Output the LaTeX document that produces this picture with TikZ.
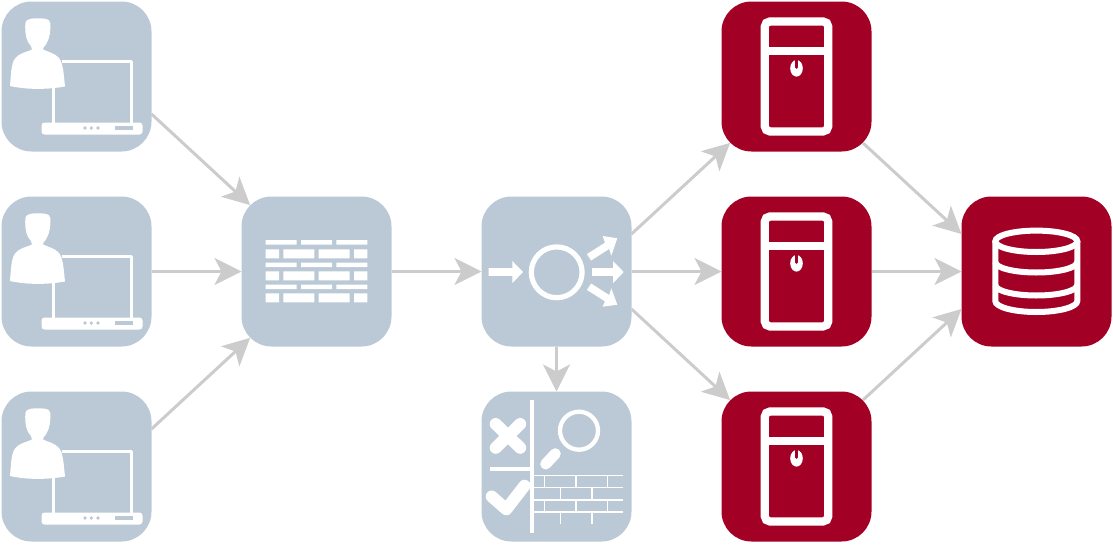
\documentclass[tikz,border=0pt]{standalone}
\usetikzlibrary{arrows.meta}
\definecolor{boxblue}{HTML}{BAC9D5}
\definecolor{boxred}{HTML}{A30026}
\definecolor{conn}{HTML}{CCCCCC}
\tikzset{
  tile/.style={rectangle,rounded corners=30pt,minimum size=150pt,inner sep=0pt,outer sep=0pt,draw=none},
  bluetile/.style={tile,fill=boxblue},
  redtile/.style={tile,fill=boxred},
  link/.style={draw=conn,line width=3pt,-{Stealth[length=27pt,width=27pt,inset=7pt,fill=conn]}},
  ico/.style={draw=white,fill=none},
  icofill/.style={fill=white,draw=none}
}
\newcommand{\usericon}[1]{%
\begin{scope}[shift={(0,#1)}]
  \fill[icofill] (25.6,22) .. controls (26.5,19) and (33,18) .. (38,18.3) .. controls (44,18.6) and (49.5,18) .. (50.3,23)
    .. controls (50.8,30) and (50,38) .. (46,44.5) .. controls (44,47) and (42.5,48) .. (43,49.5)
    .. controls (48,52) and (55,53) .. (59,58) .. controls (63,63) and (63.5,72) .. (65,86.5)
    .. controls (48,89.5) and (28,90) .. (10,86) .. controls (11,75) and (11,64) .. (15,58.5)
    .. controls (19,53) and (27,52) .. (32,49.5) .. controls (32.5,47) and (30,45) .. (28,42)
    .. controls (25,36) and (24.8,28) .. (25.6,22) -- cycle;
  \draw[draw=white,line width=3pt,line join=round] (53,86) -- (53,124);
  \draw[draw=white,line width=3pt,line join=round] (62,61.7) -- (131.5,61.7) -- (131.5,124);
  \fill[icofill,rounded corners=3pt] (41.5,122.5) rectangle (142.5,134.5);
  \fill[boxblue] (85,128) circle (1.8) (91.3,128) circle (1.8) (98,128) circle (1.8);
  \fill[boxblue] (115,125.5) rectangle (133.3,130);
\end{scope}}
\newcommand{\servericon}[1]{%
\begin{scope}[shift={(0,#1)}]
  \draw[draw=white,line width=8.2pt,rounded corners=5pt] (764.8,21.5) rectangle (828.2,131.4);
  \draw[draw=white,line width=8pt] (764.8,51) -- (828.2,51);
  \fill[icofill] (796.5,68.3) ellipse (6.3 and 8.3);
  \draw[draw=boxred,line width=2.6pt,line cap=round] (796.5,57) -- (796.5,67.5);
\end{scope}}
\begin{document}
\begin{tikzpicture}[x=1pt,y=-1pt]
\useasboundingbox (0,0) rectangle (1113,546);
% tiles
\node[bluetile] (u1) at (76.5,76.5) {};
\node[bluetile] (u2) at (76.5,271.5) {};
\node[bluetile] (u3) at (76.5,466.5) {};
\node[bluetile] (fw) at (316.5,271.5) {};
\node[bluetile] (lb) at (556.5,271.5) {};
\node[bluetile] (pol) at (556.5,466.5) {};
\node[redtile] (s1) at (796.5,76.5) {};
\node[redtile] (s2) at (796.5,271.5) {};
\node[redtile] (s3) at (796.5,466.5) {};
\node[redtile] (db) at (1036.5,271.5) {};
% connectors
\draw[link] ([shift={(0,37.5)}]u1.east) -- ([shift={(8.6,8.6)}]fw.north west);
\draw[link] (u2.east) -- (fw.west);
\draw[link] ([shift={(0,-37.5)}]u3.east) -- ([shift={(8.6,-8.6)}]fw.south west);
\draw[link] (fw.east) -- (lb.west);
\draw[link] ([shift={(0,-37.5)}]lb.east) -- ([shift={(8.6,-8.6)}]s1.south west);
\draw[link] (lb.east) -- (s2.west);
\draw[link] ([shift={(0,37.5)}]lb.east) -- ([shift={(8.6,8.6)}]s3.north west);
\draw[link] (lb.south) -- (pol.north);
\draw[link] ([shift={(-8.6,-8.6)}]s1.south east) -- ([shift={(0,-37.5)}]db.west);
\draw[link] (s2.east) -- (db.west);
\draw[link] ([shift={(-8.6,8.6)}]s3.north east) -- ([shift={(0,37.5)}]db.west);
% user icons
\usericon{0}\usericon{195}\usericon{390}
% firewall
\foreach \y in {240,262.7,284.7}{
  \fill[icofill] (265.7,\y) rectangle ++(31,4.5) (301,\y) rectangle ++(31,4.5) (336.3,\y) rectangle ++(31,4.5);
}
\foreach \y in {249.3,271.3,293.3}{
  \fill[icofill] (265.7,\y) rectangle ++(13.3,9) (283.3,\y) rectangle ++(31,9) (318.7,\y) rectangle ++(31,9) (354,\y) rectangle ++(13.3,9);
}
% load balancer
\draw[ico,line width=5.2pt] (556.7,272.3) circle (25.4);
\fill[icofill] (488.7,268.2) -- (512.3,268.2) -- (512.3,261) -- (523,272) -- (512.3,283.2) -- (512.3,275.9) -- (488.7,275.9) -- cycle;
\fill[icofill] (592,268.2) -- (613,268.2) -- (613,261) -- (623.7,272) -- (613,283.2) -- (613,275.9) -- (592,275.9) -- cycle;
\fill[icofill] (586.9,254.1) -- (604.9,242.7) -- (602.7,236) -- (617.3,238.3) -- (611.3,255.7) -- (609.1,249) -- (591.1,260.5) -- cycle;
\fill[icofill] (586.9,289.9) -- (604.9,301.3) -- (602.7,306.7) -- (617.3,304.7) -- (611.3,288.3) -- (609.1,295) -- (591.1,283.5) -- cycle;
% policy icon
\draw[ico,line width=4pt] (532.3,400.3) -- (532.3,533);
\draw[ico,line width=4pt] (490.3,468.5) -- (531,468.5);
\draw[ico,line width=12pt,line cap=round] (495.7,424) -- (520.2,447.8) (520.2,424) -- (495.7,447.8);
\draw[ico,line width=12pt,line cap=round,line join=round] (491.7,496.5) -- (506.3,509.3) -- (524.5,485.7);
\draw[ico,line width=4.3pt] (579,430.7) circle (19);
\draw[ico,line width=11pt,line cap=round] (545.7,464) -- (555.3,453.7);
\foreach \y in {475.7,487.7,500,512}{\draw[ico,line width=1.4pt] (534,\y) -- (623,\y);}
\foreach \x in {544.3,576,607.7}{\draw[ico,line width=1.4pt] (\x,475.7) -- (\x,487.7) (\x,500) -- (\x,512);}
\foreach \x in {560.3,592}{\draw[ico,line width=1.4pt] (\x,487.7) -- (\x,500) (\x,512) -- (\x,523.7);}
% servers
\servericon{0}\servericon{195}\servericon{390}
% database
\draw[ico,line width=6pt] (1036.3,241.3) ellipse (41 and 10.7);
\draw[ico,line width=6pt] (995.3,241.3) -- (995.3,301) arc[start angle=180,end angle=0,x radius=41,y radius=11] -- (1077.3,241.3);
\draw[ico,line width=6pt] (995.3,262) arc[start angle=180,end angle=0,x radius=41,y radius=10.5];
\draw[ico,line width=6pt] (995.3,285) arc[start angle=180,end angle=0,x radius=41,y radius=10.5];
\end{tikzpicture}
\end{document}
